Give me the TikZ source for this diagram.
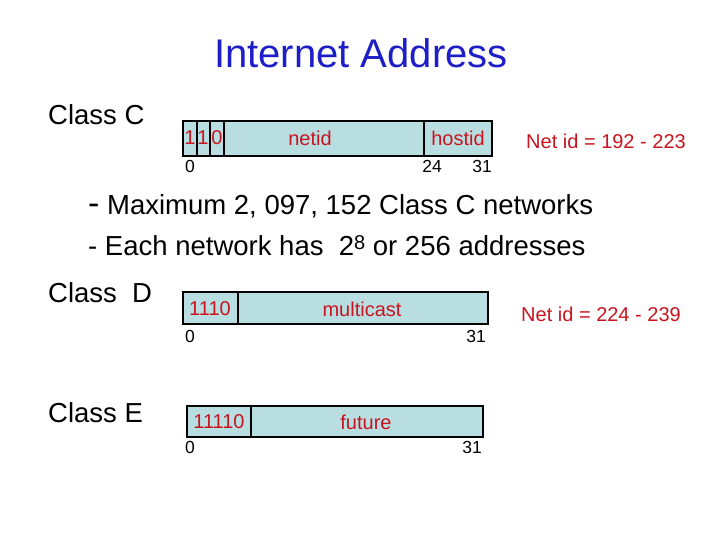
\documentclass[tikz,border=0pt]{standalone}
\usepackage{fontspec}
\setmainfont{Liberation Sans}
\definecolor{boxfill}{RGB}{185,222,226}
\definecolor{txtred}{RGB}{200,20,30}
\definecolor{ttlblue}{RGB}{30,30,200}
\begin{document}
\begin{tikzpicture}[x=1pt,y=-1pt,
  fld/.style={fill=boxfill,draw=black,line width=1.2pt},
  thk/.style={draw=black,line width=2.4pt},
  rt/.style={text=txtred,font=\fontsize{20}{20}\selectfont,inner sep=0},
  num/.style={font=\fontsize{17.5}{17.5}\selectfont,inner sep=0},
  big/.style={font=\fontsize{27.5}{27.5}\selectfont,inner sep=0,anchor=west}]
\useasboundingbox (0,0) rectangle (720,540);
\node[text=ttlblue,font=\fontsize{40}{40}\selectfont,inner sep=0] (title) at (361,53) {Internet Address};
\node[big] (cc) at (48,115) {Class C};
% Class C
\draw[fld] (183,121) rectangle (492,156);
\draw[thk] (197,121) rectangle (210,156);
\draw[thk] (210,121) rectangle (224,156);
\draw[thk] (424,121) -- (424,156);
\node[rt] (b1) at (190,138) {1};
\node[rt] (b2) at (203,138) {1};
\node[rt] (b3) at (217,138) {0};
\node[rt] (netid) at (310,138) {netid};
\node[rt] (hostid) at (458,138) {hostid};
\node[num] (c0) at (190,166) {0};
\node[num] (c24) at (432,166) {24};
\node[num] (c31) at (482,166) {31};
\node[rt] (cnet) at (606,141) {Net id = 192 - 223};
\node[big] (l1) at (88,206) {{\fontsize{34}{34}\selectfont -} Maximum 2, 097, 152 Class C networks};
\node[big] (l2) at (88,246) {- Each network has\ \ 2{\fontsize{20}{20}\selectfont\raisebox{6pt}{8}} or 256 addresses};
% Class D
\node[big] (cd) at (48,293) {Class\ \ D};
\draw[fld,line width=2pt] (183,292) rectangle (488,324);
\draw[thk] (238,292) -- (238,324);
\node[rt] (d1) at (210,309) {1110};
\node[rt] (mc) at (362,309) {multicast};
\node[num] (d0) at (190,336) {0};
\node[num] (d31) at (476,336) {31};
\node[rt] (dnet) at (601,314) {Net id = 224 - 239};
% Class E
\node[big] (ce) at (48,413) {Class E};
\draw[fld] (187,406) rectangle (483,437);
\draw[fld] (251,406) -- (251,437);
\node[rt] (e1) at (219,422) {11110};
\node[rt] (fu) at (366,422) {future};
\node[num] (e0) at (190,447) {0};
\node[num] (e31) at (472,447) {31};
\end{tikzpicture}
\end{document}
